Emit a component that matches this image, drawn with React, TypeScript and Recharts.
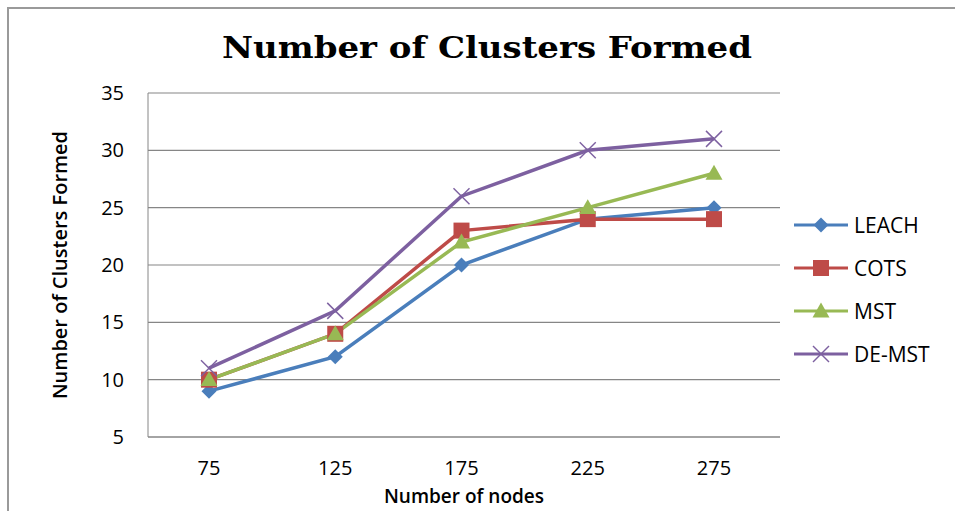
import React from "react";
import { LineChart, Line, XAxis, YAxis, CartesianGrid, Label } from "recharts";

const categories = ["75", "125", "175", "225", "275"];
const leach = [9, 12, 20, 24, 25];
const cots = [10, 14, 23, 24, 24];
const mst = [10, 14, 22, 25, 28];
const deMst = [11, 16, 26, 30, 31];
const yTicks = [5, 10, 15, 20, 25, 30, 35];

const seriesNames = ["LEACH", "COTS", "MST", "DE-MST"];
const colors = ["#4A7EBB", "#BE4B48", "#98B954", "#7D60A0"];

const data = categories.map((c, i) => ({
  nodes: c,
  LEACH: leach[i],
  COTS: cots[i],
  MST: mst[i],
  "DE-MST": deMst[i],
}));

const FONT = "'Open Sans', 'Liberation Sans', sans-serif";

const Marker = ({ kind, cx, cy, color }: { kind: number; cx: number; cy: number; color: string }) => {
  if (cx == null || cy == null) return null;
  if (kind === 0) {
    const s = 7.5;
    return <polygon points={`${cx},${cy - s} ${cx + s},${cy} ${cx},${cy + s} ${cx - s},${cy}`} fill={color} />;
  }
  if (kind === 1) {
    const s = 8;
    return <rect x={cx - s} y={cy - s} width={2 * s} height={2 * s} fill={color} />;
  }
  if (kind === 2) {
    const s = 8.5;
    return <polygon points={`${cx},${cy - s} ${cx + s},${cy + s * 0.75} ${cx - s},${cy + s * 0.75}`} fill={color} />;
  }
  const s = 8;
  return (
    <g stroke={color} strokeWidth={1.5}>
      <line x1={cx - s} y1={cy - s} x2={cx + s} y2={cy + s} />
      <line x1={cx - s} y1={cy + s} x2={cx + s} y2={cy - s} />
    </g>
  );
};

const LegendBox = () => (
  <div style={{ position: "absolute", left: 792, top: 203, fontFamily: FONT }}>
    {seriesNames.map((n, i) => (
      <div key={n} style={{ display: "flex", alignItems: "center", height: 43 }}>
        <svg width={60} height={20}>
          <line x1={2} y1={10} x2={56} y2={10} stroke={colors[i]} strokeWidth={3} />
          <Marker kind={i} cx={29} cy={10} color={colors[i]} />
        </svg>
        <span style={{ fontSize: 21, color: "#000", marginLeft: 2, fontWeight: 500 }}>{n}</span>
      </div>
    ))}
  </div>
);

export default function App() {
  return (
    <div style={{ position: "absolute", left: 0, top: 0, width: 955, height: 511, background: "#fff", overflow: "hidden" }}>
      <div
        style={{
          position: "absolute",
          left: 7,
          top: 7,
          width: 960,
          height: 520,
          borderTop: "2px solid #9a9a9a",
          borderLeft: "2px solid #9a9a9a",
          boxSizing: "border-box",
        }}
      />
      <svg style={{ position: "absolute", left: 0, top: 0 }} width={955} height={80}>
        <text
          x={487}
          y={58}
          textAnchor="middle"
          textLength={530}
          lengthAdjust="spacingAndGlyphs"
          style={{ fontFamily: "'DejaVu Serif', serif", fontWeight: 700, fontSize: 30, fill: "#000" }}
        >
          Number of Clusters Formed
        </text>
      </svg>
      <div style={{ position: "absolute", left: 0, top: 0 }}>
        <LineChart width={955} height={511} data={data} margin={{ top: 93, right: 175, bottom: 44, left: 0 }}>
          <CartesianGrid vertical={false} stroke="#868686" strokeWidth={1.2} />
          <XAxis
            dataKey="nodes"
            height={30}
            padding={{ left: 61, right: 66 }}
            tickSize={0}
            tickMargin={24}
            stroke="#868686"
            tick={{ fill: "#000", fontSize: 20, fontFamily: FONT, fontWeight: 500 }}
          >
            <Label
              value="Number of nodes"
              position="bottom"
              offset={23}
              style={{ fill: "#000", fontSize: 19, fontWeight: 600, fontFamily: FONT }}
            />
          </XAxis>
          <YAxis
            width={148}
            domain={[5, 35]}
            ticks={yTicks}
            interval={0}
            tickSize={0}
            tickMargin={24}
            stroke="#868686"
            tick={{ fill: "#000", fontSize: 20, fontFamily: FONT, fontWeight: 500 }}
          >
            <Label
              value="Number of Clusters Formed"
              angle={-90}
              position="insideLeft"
              offset={60}
              style={{ fill: "#000", fontSize: 20, fontWeight: 600, fontFamily: FONT, textAnchor: "middle" }}
            />
          </YAxis>
          {seriesNames.map((n, i) => (
            <Line
              key={n}
              dataKey={n}
              stroke={colors[i]}
              strokeWidth={3.5}
              isAnimationActive={false}
              dot={(p: any) => <Marker key={`${n}-${p.index}`} kind={i} cx={p.cx} cy={p.cy} color={colors[i]} />}
              activeDot={false}
            />
          ))}
        </LineChart>
      </div>
      <LegendBox />
    </div>
  );
}
